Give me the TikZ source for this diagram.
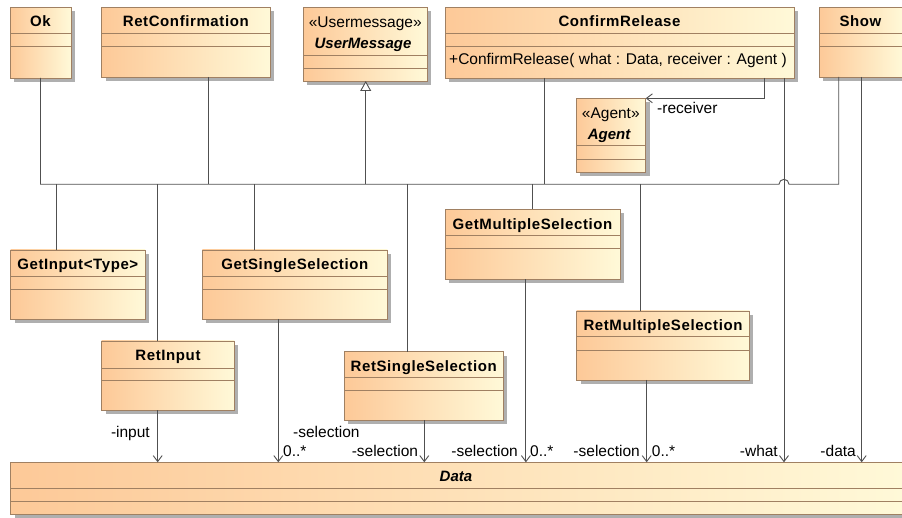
\documentclass[tikz,border=0pt]{standalone}
\usepackage{fontspec}
\setmainfont{Liberation Sans}
\newfontfamily\ttlfont{Liberation Sans}[LetterSpace=4]
\usetikzlibrary{arrows.meta,shadows,calc}
\definecolor{cOrange}{RGB}{253,201,152}
\definecolor{cYellow}{RGB}{255,249,216}
\definecolor{cBorder}{RGB}{160,128,98}
\definecolor{cShadow}{RGB}{175,175,175}
\definecolor{cLine}{RGB}{80,80,80}
\newcommand\umlbox[7]{%
  \node[cls, minimum width={#4-#2}, minimum height={#5-#3}] (#1) at (#2,#3) {};
  \draw[cBorder, line width=0.9pt] (#2,#6) -- (#4,#6) (#2,#7) -- (#4,#7);
}
\begin{document}
\begin{tikzpicture}[x=1pt,y=-1pt,
  cls/.style={draw=cBorder, line width=0.9pt, left color=cOrange, right color=cYellow,
    inner sep=0pt, outer sep=0pt, anchor=north west,
    drop shadow={shadow xshift=4pt, shadow yshift=-4pt, fill=cShadow, opacity=1}},
  ttl/.style={inner sep=0pt, anchor=base, font=\ttlfont\fontsize{15}{18}\selectfont\bfseries},
  itl/.style={inner sep=0pt, anchor=base, font=\fontsize{15}{18}\selectfont\bfseries\itshape},
  txt/.style={inner sep=0pt, font=\fontsize{15.5}{18}\selectfont},
  conn/.style={draw=cLine, line width=0.9pt},
  arr/.style={conn, -{Straight Barb[length=6pt,width=9pt]}},
  gen/.style={conn, -{Triangle[open,length=10pt,width=11pt,fill=white]}}]
\useasboundingbox (0,0) rectangle (902,518);
\clip (0,0) rectangle (902,518);
\fill[white] (0,0) rectangle (902,518);

% top row
\umlbox{ok}{10}{7.3}{71}{78}{33.3}{46.7}
\node[ttl] at (40.5,27) {Ok};
\umlbox{retconf}{101.7}{7.3}{270}{77}{33.3}{46.7}
\node[ttl] at (185.8,27) {RetConfirmation};
\umlbox{usermsg}{303.3}{7.3}{427.3}{81}{55.7}{68.3}
\node[txt, anchor=base] at (365.3,27.3) {«Usermessage»};
\node[itl] at (363,49) {UserMessage};
\umlbox{confirm}{445}{7.3}{794}{78}{33.3}{46.7}
\node[ttl] at (619.5,27) {ConfirmRelease};
\node[txt, anchor=base west] at (449,64.5) {+ConfirmRelease( what : Data, receiver : Agent )};
\umlbox{show}{819}{7.3}{903}{77}{33.3}{46.7}
\node[ttl] at (860.5,27) {Show};
\umlbox{agent}{576}{98.3}{645.7}{172.3}{145.7}{159.3}
\node[txt, anchor=base] at (610.8,118.3) {«Agent»};
\node[itl] at (609,139.3) {Agent};

% subclasses
\umlbox{getinput}{10.7}{250}{145}{319}{276}{289}
\node[ttl] at (77.8,270) {GetInput<Type>};
\umlbox{getsingle}{202.3}{250}{387.3}{319}{276}{289}
\node[ttl] at (294.8,270) {GetSingleSelection};
\umlbox{getmulti}{445}{209.3}{620}{279.3}{235.7}{248.7}
\node[ttl] at (532.5,229.3) {GetMultipleSelection};
\umlbox{retinput}{101.7}{341}{234.3}{410}{368}{380.3}
\node[ttl] at (168,361) {RetInput};
\umlbox{retsingle}{344.3}{351.7}{503}{420}{377.7}{390.7}
\node[ttl] at (423.7,371.7) {RetSingleSelection};
\umlbox{retmulti}{576.7}{311}{749.3}{380}{336.7}{350}
\node[ttl] at (663,331) {RetMultipleSelection};

% data
\umlbox{data}{10.7}{462.3}{903}{514.3}{488.3}{501}
\node[itl] at (456,481.7) {Data};

% generalization bus
\coordinate (hopL) at (779,184.3);
\coordinate (busR) at (838.7,184.3);
\draw[conn] (ok.south) -- (ok.south |- hopL) -- (hopL)
  arc[start angle=180, end angle=360, radius=5] -- (busR) -- (busR |- show.south);
\draw[conn] (retconf.south -| 208,0) -- (208,184.3);
\draw[conn] (confirm.south -| 544.3,0) -- (544.3,184.3);
\draw[gen] (365.7,184.3) -- (usermsg.south -| 365.7,0);
\draw[conn] (56.7,184.3) -- (getinput.north -| 56.7,0);
\draw[conn] (157.7,184.3) -- (retinput.north -| 157.7,0);
\draw[conn] (254.3,184.3) -- (getsingle.north -| 254.3,0);
\draw[conn] (407.3,184.3) -- (retsingle.north -| 407.3,0);
\draw[conn] (532.3,184.3) -- (getmulti.north -| 532.3,0);
\draw[conn] (640,184.3) -- (retmulti.north -| 640,0);

% associations
\draw[arr] (confirm.south -| 764,0) |- (agent.north east);
\node[txt, anchor=base west] at (657,113.3) {-receiver};
\draw[arr] (retinput.south -| 157.7,0) -- (data.north -| 157.7,0);
\node[txt, anchor=base east] at (150,437.7) {-input};
\draw[arr] (getsingle.south -| 278.3,0) -- (data.north -| 278.3,0);
\node[txt, anchor=base west] at (293,437.7) {-selection};
\node[txt, anchor=base west] at (283,456) {0..*};
\draw[arr] (retsingle.south -| 424.3,0) -- (data.north -| 424.3,0);
\node[txt, anchor=base east] at (418.3,456) {-selection};
\draw[arr] (getmulti.south -| 525.9,0) -- (data.north -| 525.9,0);
\node[txt, anchor=base east] at (518,456) {-selection};
\node[txt, anchor=base west] at (530,456) {0..*};
\draw[arr] (retmulti.south -| 646.7,0) -- (data.north -| 646.7,0);
\node[txt, anchor=base east] at (640,456) {-selection};
\node[txt, anchor=base west] at (651.7,456) {0..*};
\draw[arr] (confirm.south -| 784,0) -- (data.north -| 784,0);
\node[txt, anchor=base east] at (778,456) {-what};
\draw[arr] (show.south -| 861.7,0) -- (data.north -| 861.7,0);
\node[txt, anchor=base east] at (856,456) {-data};
\end{tikzpicture}
\end{document}
